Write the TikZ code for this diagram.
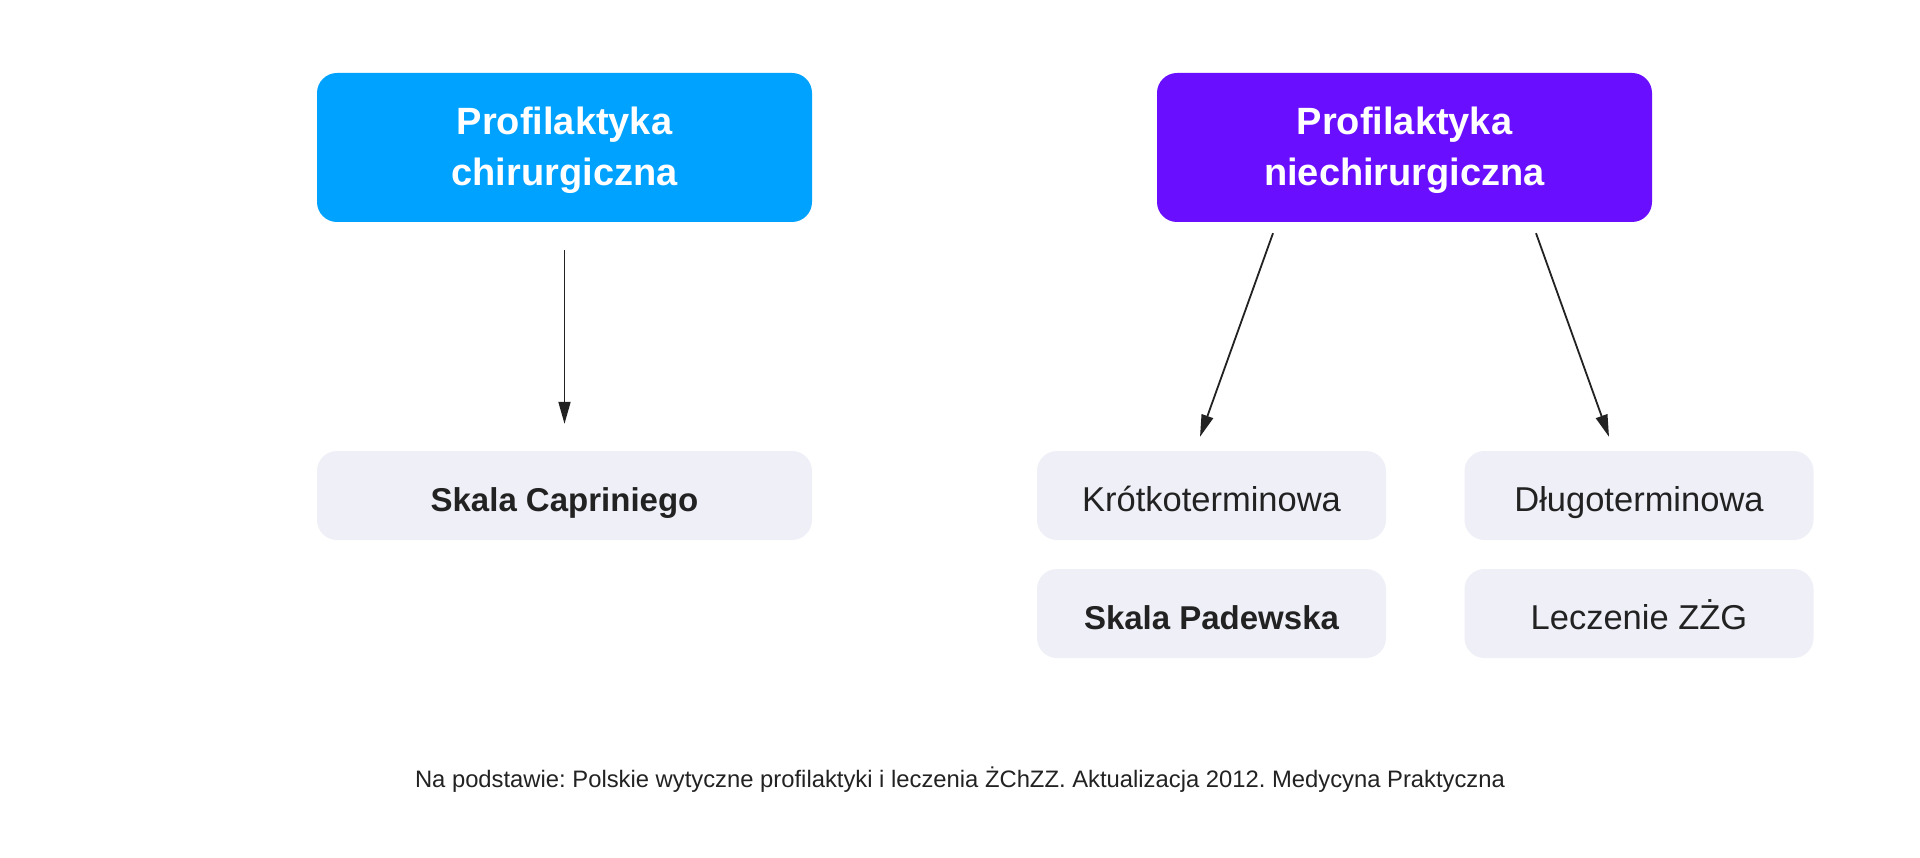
\documentclass[tikz,border=0pt]{standalone}
\usepackage{fontspec}
\setmainfont{Liberation Sans}
\usetikzlibrary{arrows.meta}
\definecolor{cblue}{RGB}{0,162,255}
\definecolor{cpurple}{RGB}{106,14,255}
\definecolor{clight}{RGB}{239,240,247}
\definecolor{ctext}{RGB}{34,34,34}
\tikzset{
  head/.style={rounded corners=20pt, minimum width=495pt, minimum height=149pt, align=center, text=white, font=\fontsize{38}{51}\selectfont\bfseries, inner sep=0pt, text depth=2pt},
  leaf/.style={fill=clight, rounded corners=20pt, minimum height=89pt, text=ctext, inner sep=0pt, text height=32pt, text depth=0pt},
  leafbold/.style={leaf, font=\fontsize{33}{40}\selectfont\bfseries},
  leafreg/.style={leaf, font=\fontsize{34.5}{40}\selectfont},
  arr/.style={draw=ctext, line width=1.8pt, -{Triangle[length=22pt,width=12pt]}},
  foot/.style={text=ctext, font=\fontsize{23.8}{30}\selectfont, inner sep=0pt}
}
\begin{document}
\frenchspacing
\begin{tikzpicture}[x=1pt,y=-1pt]
\useasboundingbox[fill=white] (0,0) rectangle (1920,858);
\node[head, fill=cblue] (blue) at (564.5,147.5) {Profilaktyka\\chirurgiczna};
\node[head, fill=cpurple] (purple) at (1404.5,147.5) {Profilaktyka\\niechirurgiczna};
\node[leafbold, minimum width=495pt] (skc) at (564.5,495.5) {Skala Capriniego};
\node[leafreg, minimum width=349pt] (kr) at (1211.5,495.5) {Krótkoterminowa};
\node[leafreg, minimum width=349pt] (dl) at (1639,495.5) {Długoterminowa};
\node[leafbold, minimum width=349pt] (pad) at (1211.5,613.5) {Skala Padewska};
\node[leafreg, minimum width=349pt] (lec) at (1639,613.5) {Leczenie ZŻG};
\draw[arr] ([yshift=-28pt]blue.south) -- ([yshift=27pt]skc.north);
\draw[arr] ([xshift=-131.5pt,yshift=-11pt]purple.south) -- ([xshift=-11.5pt,yshift=14pt]kr.north);
\draw[arr] ([xshift=131.5pt,yshift=-11pt]purple.south) -- ([xshift=-30pt,yshift=14pt]dl.north);
\node[foot] (src) at (960,780) {\frenchspacing Na podstawie: Polskie wytyczne profilaktyki i leczenia ŻChZZ. Aktualizacja 2012. Medycyna Praktyczna};
\end{tikzpicture}
\end{document}
